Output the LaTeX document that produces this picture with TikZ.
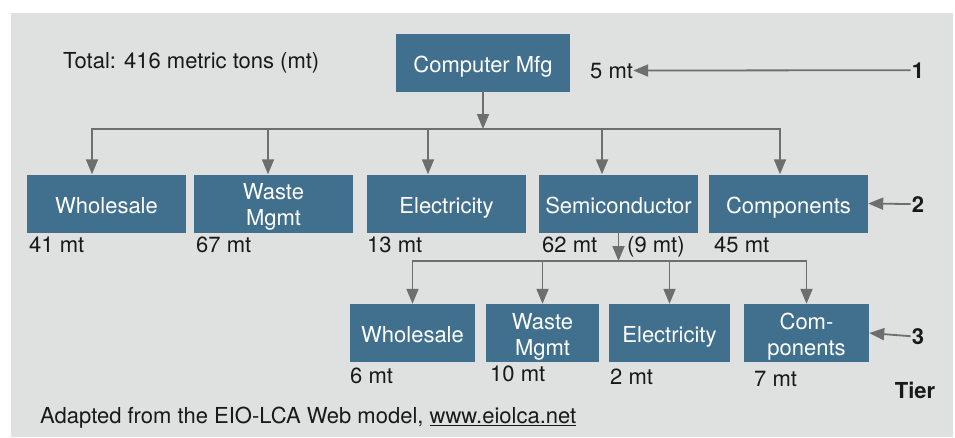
\documentclass[tikz,border=0pt]{standalone}
\usepackage{fontspec}
\setmainfont{TeX Gyre Heros}
\usepackage{xcolor}
\usetikzlibrary{positioning,calc,arrows.meta}

\definecolor{boxblue}{RGB}{64,112,142}
\definecolor{bggray}{RGB}{223,224,224}
\definecolor{linegray}{RGB}{110,110,110}
\definecolor{txtblack}{RGB}{25,25,25}

% strut that pulls two-line box texts a bit down
\newcommand{\toprule}{\rule{0pt}{23pt}}

\tikzset{
    sector/.style={fill=boxblue, text=white, minimum height=58pt, inner sep=0pt, align=center, font=\fontsize{22}{26}\selectfont},
    single/.style={sector, text height=19pt, text depth=0pt},
    amount/.style={anchor=base west, inner sep=0pt, text=txtblack, font=\fontsize{22}{26}\selectfont},
    tiernum/.style={anchor=base, inner sep=2pt, text=txtblack, font=\fontsize{22}{26}\selectfont\bfseries},
    link/.style={draw=linegray, line width=1.8pt, line cap=rect},
    arr/.style={link, -{Triangle[length=15pt,width=12pt]}}
}

\begin{document}
\begin{tikzpicture}[x=1pt,y=-1pt]
    \useasboundingbox (0,0) rectangle (955,437);
    \fill[bggray] (11,13) rectangle (953,437);

    % Tier 1
    \node[single, minimum width=174pt] (cmfg) at (483,63) {Computer Mfg};
    \node[amount] (m1) at (590,78) {5 mt};
    \node[amount] (total) at (63,68) {Total: 416 metric tons (mt)};
    \node[tiernum] (t1) at (918,78) {1};
    \draw[arr] (t1.west) -- (m1.east);

    % Tier 2
    \node[single, minimum width=159pt] (whole2) at (106.5,203.5) {Wholesale};
    \node[sector, minimum width=159pt] (waste2) at (273.5,203.5) {\toprule Waste\\Mgmt};
    \node[single, minimum width=159pt] (elec2) at (446.5,203.5) {Electricity};
    \node[single, minimum width=159pt] (semi2) at (618.5,203.5) {Semiconductor};
    \node[single, minimum width=159pt] (comp2) at (788.5,203.5) {Components};
    \node[amount] (m2a) at (29,252.5) {41 mt};
    \node[amount] (m2b) at (196,252.5) {67 mt};
    \node[amount] (m2c) at (367,252.5) {13 mt};
    \node[amount] (m2d) at (542,252.5) {62 mt};
    \node[amount] (m2e) at (627,252.5) {(9 mt)};
    \node[amount] (m2f) at (714,252.5) {45 mt};
    \node[tiernum] (t2) at (918,212) {2};
    \draw[arr] (t2.west) -- (comp2.east);

    % bus from Computer Mfg
    \coordinate (bus1) at (483,129);
    \foreach \nd/\dx in {whole2/-14.5, waste2/-5.5, elec2/-18.5, semi2/-16.5, comp2/-8.5}
        \coordinate (\nd-in) at ([xshift=\dx pt]\nd.north);
    \draw[arr] (cmfg) -- (bus1);
    \draw[link] (whole2-in |- bus1) -- (comp2-in |- bus1);
    \foreach \nd in {whole2, waste2, elec2, semi2, comp2}
        \draw[arr] (\nd-in |- bus1) -- (\nd-in);

    % Tier 3
    \node[single, minimum width=125pt] (whole3) at (412.5,333) {Wholesale};
    \node[sector, minimum width=113pt] (waste3) at (542.5,333) {\toprule Waste\\Mgmt};
    \node[single, minimum width=121pt] (elec3) at (669.5,333) {Electricity};
    \node[sector, minimum width=125pt] (comp3) at (806.5,333) {\toprule Com-\\ponents};
    \node[amount] (m3a) at (350,383) {6 mt};
    \node[amount] (m3b) at (490,381) {10 mt};
    \node[amount] (m3c) at (610,384) {2 mt};
    \node[amount] (m3d) at (754,386) {7 mt};
    \node[tiernum] (t3) at (918,344) {3};
    \draw[arr] (t3.west) -- (comp3.east);
    \node[tiernum] (tier) at (915,398) {Tier};

    % bus from Semiconductor
    \coordinate (bus2) at (618.5,261);
    \draw[arr] (semi2) -- (bus2);
    \draw[link] (whole3 |- bus2) -- (comp3 |- bus2);
    \foreach \nd in {whole3, waste3, elec3, comp3}
        \draw[arr] (\nd |- bus2) -- (\nd.north);

    \node[amount] (src) at (40,423) {Adapted from the EIO-LCA Web model, \underline{www.eiolca.net}};
\end{tikzpicture}
\end{document}
